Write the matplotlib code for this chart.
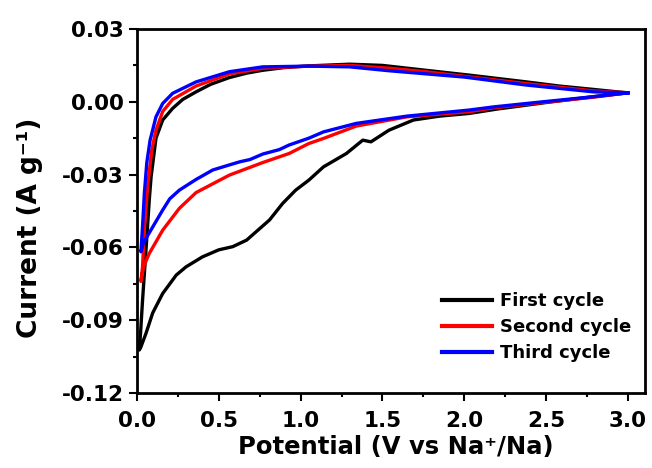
import matplotlib
matplotlib.use("Agg")
import matplotlib.pyplot as plt
from matplotlib.ticker import MultipleLocator, FormatStrFormatter

plt.rcParams['font.family'] = ['DejaVu Sans']
plt.rcParams['font.weight'] = 'bold'
plt.rcParams['axes.unicode_minus'] = False

labels = ["First cycle", "Second cycle", "Third cycle"]
colors = ["black", "red", "blue"]

# First cycle: cathodic (3.0 -> 0) then anodic (0 -> 3.0)
first_cath_v = [3.0, 2.8, 2.5, 2.2, 2.03, 1.85, 1.69, 1.54, 1.43, 1.38, 1.28, 1.14, 1.05, 0.97, 0.89,
                0.81, 0.67, 0.585, 0.50, 0.40, 0.30, 0.24, 0.157, 0.096, 0.055, 0.024, 0.014]
first_cath_i = [0.0037, 0.0022, -0.0003, -0.0030, -0.0048, -0.0059, -0.0075, -0.0117, -0.0165, -0.0158,
                -0.0213, -0.0268, -0.0323, -0.0364, -0.0419, -0.0487, -0.0570, -0.0597, -0.0610, -0.0639,
                -0.0680, -0.0714, -0.0790, -0.0870, -0.0954, -0.1010, -0.1023]
first_anod_v = [0.014, 0.022, 0.034, 0.055, 0.075, 0.086, 0.116, 0.157, 0.218, 0.28, 0.361, 0.45,
                0.565, 0.67, 0.769, 0.9, 1.05, 1.3, 1.5, 1.75, 2.03, 2.38, 2.58, 2.79, 2.95, 3.0]
first_anod_i = [-0.1023, -0.095, -0.0817, -0.061, -0.0405, -0.031, -0.0150, -0.0075, -0.0027, 0.0010,
                0.0041, 0.0072, 0.0100, 0.0118, 0.0130, 0.0141, 0.0148, 0.0155, 0.0150, 0.0131, 0.0110,
                0.0082, 0.0065, 0.0051, 0.0040, 0.0037]

second_cath_v = [3.0, 2.79, 2.48, 2.18, 2.03, 1.65, 1.34, 1.14, 1.05, 0.93, 0.77, 0.565, 0.361,
                 0.259, 0.157, 0.075, 0.04, 0.024]
second_cath_i = [0.0037, 0.0019, -0.0003, -0.0025, -0.0041, -0.0062, -0.0100, -0.0151, -0.0172,
                 -0.0213, -0.0250, -0.0302, -0.0374, -0.0439, -0.0529, -0.0625, -0.0680, -0.0740]
second_anod_v = [0.024, 0.034, 0.045, 0.065, 0.09, 0.116, 0.157, 0.218, 0.361, 0.565, 0.769, 1.05,
                 1.3, 1.55, 1.75, 2.03, 2.38, 2.79, 3.0]
second_anod_i = [-0.0740, -0.0680, -0.0520, -0.0350, -0.0200, -0.0117, -0.0040, 0.0010, 0.0065,
                 0.0115, 0.0138, 0.0147, 0.0150, 0.0138, 0.0125, 0.0103, 0.0075, 0.0045, 0.0037]

third_cath_v = [3.0, 2.79, 2.48, 2.18, 2.03, 1.65, 1.34, 1.14, 1.05, 0.93, 0.87, 0.77, 0.69, 0.63,
                0.565, 0.463, 0.361, 0.259, 0.2, 0.157, 0.075, 0.04, 0.024]
third_cath_i = [0.0037, 0.0021, 0.0000, -0.0021, -0.0034, -0.0059, -0.0089, -0.0124, -0.0150,
                -0.0178, -0.0197, -0.0215, -0.0238, -0.0247, -0.0260, -0.0281, -0.0320, -0.0364,
                -0.0400, -0.0446, -0.0540, -0.0580, -0.0618]
third_anod_v = [0.024, 0.035, 0.045, 0.06, 0.08, 0.116, 0.157, 0.218, 0.361, 0.565, 0.769, 1.05,
                1.3, 1.54, 2.0, 2.38, 2.79, 3.0]
third_anod_i = [-0.0618, -0.0500, -0.0377, -0.0250, -0.0158, -0.0062, -0.0007, 0.0035, 0.0082,
                0.0124, 0.0144, 0.0147, 0.0144, 0.0128, 0.0102, 0.0069, 0.0041, 0.0037]

cycles = [
    (first_cath_v + first_anod_v, first_cath_i + first_anod_i),
    (second_cath_v + second_anod_v, second_cath_i + second_anod_i),
    (third_cath_v + third_anod_v, third_cath_i + third_anod_i),
]

fig = plt.figure(figsize=(6.52, 4.68), dpi=100)
ax = fig.add_axes([137 / 652, 1 - 393 / 468, 508 / 652, 364 / 468])

for (v, i), c, lab in zip(cycles, colors, labels):
    ax.plot(v, i, color=c, lw=2.4, label=lab, solid_joinstyle='round')

ax.set_xlim(0, 3.105)
ax.set_ylim(-0.12, 0.03)
ax.xaxis.set_major_locator(MultipleLocator(0.5))
ax.xaxis.set_minor_locator(MultipleLocator(0.25))
ax.yaxis.set_major_locator(MultipleLocator(0.03))
ax.yaxis.set_minor_locator(MultipleLocator(0.015))
ax.xaxis.set_major_formatter(FormatStrFormatter('%.1f'))
ax.yaxis.set_major_formatter(FormatStrFormatter('%.2f'))

for s in ax.spines.values():
    s.set_linewidth(2.0)
ax.tick_params(which='both', direction='out', width=1.5, top=False, right=False)
ax.tick_params(which='major', length=5.5, labelsize=15.5)
ax.tick_params(axis='x', which='major', pad=7.5)
ax.tick_params(axis='y', which='major', pad=4)
ax.tick_params(which='minor', length=3)
for t in ax.get_xticklabels() + ax.get_yticklabels():
    t.set_fontweight('bold')

ax.set_xlabel("Potential (V vs Na\u207a/Na)", fontsize=17.5, fontweight='bold')
ax.set_ylabel("Current (A g\u207b\u00b9)", fontsize=19, fontweight='bold')
ax.xaxis.set_label_coords(0.51, -0.115)
ax.yaxis.set_label_coords(-0.185, 0.453)

leg = ax.legend(loc='upper left', bbox_to_anchor=(0.6, 0.277), frameon=False,
                prop={'size': 13, 'weight': 'bold'}, handlelength=2.8, handletextpad=0.4,
                labelspacing=0.45, borderpad=0, borderaxespad=0)
for line in leg.get_lines():
    line.set_linewidth(3)

fig.savefig("out.png", dpi=100)
